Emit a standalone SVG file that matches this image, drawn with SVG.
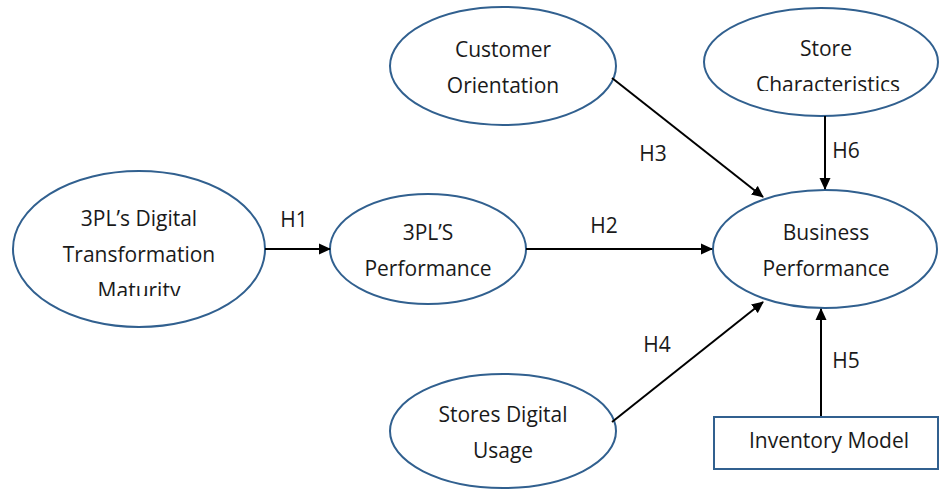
<svg xmlns="http://www.w3.org/2000/svg" width="940" height="489" viewBox="0 0 940 489">
<style>
.n{fill:#fff;stroke:#31608f;stroke-width:2}
.t{font-family:"Open Sans","Liberation Sans",sans-serif;font-size:21px;fill:#1a1a1a;text-anchor:middle}
.c{stroke:#000;stroke-width:2;fill:none;marker-end:url(#ah)}
</style>
<defs>
<marker id="ah" markerWidth="12" markerHeight="12" refX="11" refY="6" orient="auto" markerUnits="userSpaceOnUse" viewBox="0 0 12 12">
<path d="M0,0.5 L12,6 L0,11.5 z" fill="#000"/>
</marker>
<clipPath id="clipM"><rect x="0" y="0" width="940" height="296"/></clipPath>
<clipPath id="clipC"><rect x="0" y="0" width="940" height="91"/></clipPath>
</defs>
<rect width="940" height="489" fill="#fff"/>
<g id="n-dtm">
<ellipse class="n" cx="139" cy="249" rx="126" ry="78"/>
<text class="t" x="139" y="226">3PL’s Digital</text>
<text class="t" x="139" y="262">Transformation</text>
<text class="t" x="139" y="298" clip-path="url(#clipM)">Maturity</text>
</g>
<g id="n-perf">
<ellipse class="n" cx="428" cy="249" rx="98" ry="55"/>
<text class="t" x="428" y="240">3PL’S</text>
<text class="t" x="428" y="276">Performance</text>
</g>
<g id="n-co">
<ellipse class="n" cx="503" cy="66" rx="113" ry="59"/>
<text class="t" x="503" y="57">Customer</text>
<text class="t" x="503" y="93">Orientation</text>
</g>
<g id="n-sc">
<ellipse class="n" cx="821" cy="62" rx="117" ry="54"/>
<text class="t" x="826" y="56">Store</text>
<text class="t" x="828" y="92" clip-path="url(#clipC)">Characteristics</text>
</g>
<g id="n-bp">
<ellipse class="n" cx="825" cy="249" rx="112" ry="59"/>
<text class="t" x="826" y="240">Business</text>
<text class="t" x="826" y="276">Performance</text>
</g>
<g id="n-sdu">
<ellipse class="n" cx="503" cy="431" rx="113" ry="57"/>
<text class="t" x="503" y="422">Stores Digital</text>
<text class="t" x="503" y="458">Usage</text>
</g>
<g id="n-im">
<rect class="n" x="714" y="417" width="224" height="52"/>
<text class="t" x="829" y="448">Inventory Model</text>
</g>
<g id="connectors">
<line class="c" x1="265" y1="249" x2="330" y2="249"/>
<line class="c" x1="526" y1="249" x2="712" y2="249"/>
<line class="c" x1="612" y1="78" x2="763" y2="197"/>
<line class="c" x1="825" y1="116" x2="825" y2="189"/>
<line class="c" x1="612" y1="422" x2="763" y2="302"/>
<line class="c" x1="821" y1="416" x2="821" y2="309"/>
<text class="t" x="294" y="227">H1</text>
<text class="t" x="604" y="233">H2</text>
<text class="t" x="653" y="161">H3</text>
<text class="t" x="846" y="158">H6</text>
<text class="t" x="657" y="352">H4</text>
<text class="t" x="846" y="368">H5</text>
</g>
</svg>
